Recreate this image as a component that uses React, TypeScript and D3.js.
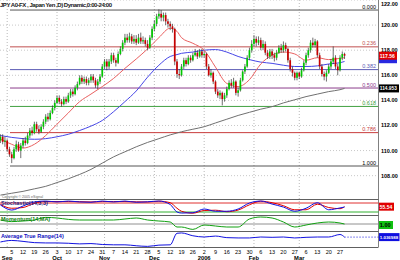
import * as d3 from 'd3';

// daily candles, Aug 29 2005 .. Mar 29 2006 (weekdays)
const opens = [
  110.8, 111.1, 110.7, 110.8, 110.1, 109.7, 109.4, 110.1, 110.5, 110.0,
  110.4, 110.8, 110.6, 111.2, 111.6, 111.4, 112.1, 111.7, 111.5, 111.9,
  112.3, 112.7, 112.5, 113.0, 113.4, 113.8, 114.2, 113.9, 113.7, 114.1,
  113.9, 114.4, 114.7, 114.5, 115.0, 115.3, 115.8, 115.5, 115.7, 115.4,
  115.6, 115.9, 115.6, 115.2, 115.5, 115.9, 116.7, 117.1, 116.7, 117.1,
  117.6, 117.2, 117.0, 117.7, 118.1, 118.6, 119.0, 118.8, 119.1, 118.7,
  118.9, 118.6, 119.0, 118.7, 118.8, 118.5, 118.2, 119.0, 119.7, 120.1,
  120.7, 120.9, 120.6, 120.8, 120.3, 120.1, 119.9, 119.7, 117.1, 116.1,
  116.0, 116.7, 117.2, 116.9, 117.4, 117.2, 117.6, 117.8, 117.5, 117.9,
  117.6, 117.7, 116.7, 116.0, 116.2, 115.5, 114.7, 114.4, 114.6, 114.1,
  114.4, 114.9, 115.4, 115.2, 115.5, 114.6, 114.8, 115.6, 116.3, 116.7,
  117.4, 118.0, 118.5, 118.9, 118.6, 118.8, 118.2, 118.5, 117.8, 117.5,
  117.9, 117.6, 117.4, 117.8, 118.2, 118.0, 118.4, 118.1, 117.2, 116.5,
  116.2, 115.8, 116.2, 115.9, 116.4, 117.0, 117.6, 118.0, 118.6, 118.4,
  118.7, 117.6, 116.7, 116.1, 115.9, 116.2, 116.7, 117.1, 117.4, 116.7,
  116.4, 117.4, 117.7,
];
const highs = [
  111.3, 111.3, 111.1, 110.9, 110.3, 109.9, 110.3, 110.8, 110.7, 110.6,
  111.0, 111.1, 111.4, 111.8, 111.9, 112.3, 112.3, 112.0, 112.1, 112.5,
  112.9, 113.0, 113.2, 113.6, 114.0, 114.4, 114.4, 114.1, 114.3, 114.3,
  114.6, 114.9, 114.9, 115.2, 115.5, 116.0, 116.0, 115.9, 115.9, 115.8,
  116.1, 116.1, 115.8, 115.7, 116.1, 116.9, 117.3, 117.3, 117.3, 117.8,
  117.8, 117.4, 117.9, 118.3, 118.8, 119.3, 119.3, 119.4, 119.3, 119.2,
  119.2, 119.3, 119.4, 119.1, 119.0, 118.8, 119.2, 119.9, 120.4, 120.9,
  121.25, 121.2, 121.0, 121.0, 120.5, 120.3, 120.1, 119.8, 117.3, 116.5,
  116.9, 117.4, 117.4, 117.6, 117.6, 117.8, 118.1, 118.0, 118.1, 118.1,
  117.9, 117.8, 116.9, 116.5, 116.3, 115.6, 114.9, 114.8, 114.7, 114.6,
  115.1, 115.6, 115.7, 115.8, 115.6, 115.0, 115.8, 116.4, 116.9, 117.6,
  118.2, 118.8, 119.2, 119.1, 119.1, 119.0, 118.8, 118.7, 118.0, 118.1,
  118.1, 117.8, 118.0, 118.4, 118.5, 118.7, 118.6, 118.2, 117.4, 116.7,
  116.3, 116.3, 116.3, 116.6, 117.2, 117.8, 118.2, 118.8, 119.0, 118.9,
  118.8, 117.8, 116.9, 116.3, 116.4, 116.9, 117.3, 118.3, 117.6, 116.9,
  117.6, 117.9, 117.8,
];
const lows = [
  110.6, 110.5, 110.3, 109.9, 109.5, 109.0, 109.3, 109.9, 109.9, 109.4,
  110.2, 110.4, 110.5, 111.0, 111.2, 111.3, 111.5, 111.3, 111.4, 111.7,
  112.1, 112.3, 112.4, 112.9, 113.2, 113.7, 113.7, 113.5, 113.6, 113.7,
  113.8, 114.2, 114.3, 114.4, 114.8, 115.2, 115.3, 115.3, 115.2, 115.2,
  115.4, 115.4, 115.0, 114.9, 115.3, 115.8, 116.5, 116.4, 116.5, 116.9,
  117.0, 116.7, 116.9, 117.6, 117.9, 118.4, 118.6, 118.6, 118.5, 118.5,
  118.4, 118.5, 118.5, 118.5, 118.3, 118.0, 118.1, 118.8, 119.5, 119.9,
  120.5, 120.3, 120.3, 120.0, 119.8, 119.6, 119.4, 116.8, 115.8, 115.7,
  115.9, 116.5, 116.7, 116.8, 117.0, 117.1, 117.5, 117.3, 117.4, 117.4,
  117.4, 116.5, 115.9, 115.8, 115.3, 114.5, 114.2, 114.1, 113.6, 113.9,
  114.2, 114.8, 115.0, 115.0, 114.4, 114.3, 114.7, 115.5, 116.1, 116.6,
  117.2, 117.8, 118.3, 118.3, 118.4, 118.0, 118.0, 117.6, 117.3, 117.3,
  117.3, 117.1, 117.2, 117.7, 117.8, 117.8, 117.9, 117.0, 116.3, 115.9,
  115.6, 115.6, 115.7, 115.8, 116.3, 116.8, 117.4, 117.8, 118.2, 118.2,
  117.4, 116.5, 115.9, 115.6, 115.5, 116.1, 116.5, 116.9, 116.5, 116.0,
  116.3, 117.2, 117.3,
];
const closes = [
  111.1, 110.7, 110.8, 110.1, 109.7, 109.4, 110.1, 110.5, 110.0, 110.4,
  110.8, 110.6, 111.2, 111.6, 111.4, 112.1, 111.7, 111.5, 111.9, 112.3,
  112.7, 112.5, 113.0, 113.4, 113.8, 114.2, 113.9, 113.7, 114.1, 113.9,
  114.4, 114.7, 114.5, 115.0, 115.3, 115.8, 115.5, 115.7, 115.4, 115.6,
  115.9, 115.6, 115.2, 115.5, 115.9, 116.7, 117.1, 116.7, 117.1, 117.6,
  117.2, 117.0, 117.7, 118.1, 118.6, 119.0, 118.8, 119.1, 118.7, 118.9,
  118.6, 119.0, 118.7, 118.8, 118.5, 118.2, 119.0, 119.7, 120.1, 120.7,
  120.9, 120.6, 120.8, 120.3, 120.1, 119.9, 119.7, 117.1, 116.1, 116.0,
  116.7, 117.2, 116.9, 117.4, 117.2, 117.6, 117.8, 117.5, 117.9, 117.6,
  117.7, 116.7, 116.0, 116.2, 115.5, 114.7, 114.4, 114.6, 114.1, 114.4,
  114.9, 115.4, 115.2, 115.5, 114.6, 114.8, 115.6, 116.3, 116.7, 117.4,
  118.0, 118.5, 118.9, 118.6, 118.8, 118.2, 118.5, 117.8, 117.5, 117.9,
  117.6, 117.4, 117.8, 118.2, 118.0, 118.4, 118.1, 117.2, 116.5, 116.2,
  115.8, 116.2, 115.9, 116.4, 117.0, 117.6, 118.0, 118.6, 118.4, 118.7,
  117.6, 116.7, 116.1, 115.9, 116.2, 116.7, 117.1, 117.4, 116.7, 116.4,
  117.4, 117.7, 117.56,
];

// indicator samples (trading-day index)
const sampleDays = [0, 5, 10, 15, 20, 25, 30, 35, 40, 45, 50, 55, 60, 65, 70, 75, 78, 80, 85, 90, 95, 100, 105, 110, 115, 120, 125, 130, 135, 140, 145, 150, 152];
const redMa = [110.9, 110.5, 110.2, 110.5, 111.2, 112.1, 113.0, 113.9, 114.5, 115.1, 115.75, 116.55, 117.3, 118.1, 119.0, 119.75, 119.5, 119.0, 118.55, 118.0, 116.65, 115.35, 115.1, 115.65, 116.9, 117.6, 117.85, 117.7, 117.2, 117.4, 117.25, 117.35, 117.4];
const blueMa = [111.2, 111.05, 110.95, 110.9, 110.95, 111.1, 111.3, 111.6, 111.95, 112.4, 113.1, 113.9, 114.75, 115.85, 116.8, 117.5, 117.65, 117.75, 117.85, 118.0, 118.05, 117.85, 117.5, 117.25, 117.05, 116.95, 116.8, 116.7, 116.7, 116.75, 116.9, 117.0, 117.1];
const greyMa = [106.45, 106.6, 106.75, 106.95, 107.15, 107.45, 107.75, 108.1, 108.5, 109.0, 109.5, 109.9, 110.3, 110.65, 110.95, 111.25, 111.4, 111.5, 111.7, 111.9, 112.2, 112.5, 112.8, 113.05, 113.3, 113.5, 113.8, 114.05, 114.3, 114.5, 114.7, 114.85, 114.953];
const stochK = [67, 33, 60, 87, 93, 87, 93, 87, 85, 93, 87, 93, 85, 88, 93, 70, 20, 13, 15, 40, 25, 25, 40, 80, 93, 73, 53, 25, 45, 82, 35, 47, 53];
const stochD = [70, 45, 50, 78, 90, 90, 90, 89, 87, 90, 90, 90, 88, 87, 92, 82, 45, 25, 12, 30, 32, 22, 33, 68, 92, 82, 62, 35, 35, 72, 50, 42, 55.54];
const momentum = [102, 101.2, 101.5, 102, 103.3, 103, 102.3, 102, 102, 102, 102, 102.5, 103, 102, 101.5, 101, 98.5, 98.5, 97.3, 99.5, 99, 98.5, 98.5, 102.5, 103.5, 103, 101, 98.5, 99.5, 100.5, 101, 100.5, 100];
const atr = [0.88, 0.93, 0.9, 0.86, 0.85, 0.85, 0.84, 0.82, 0.83, 0.8, 0.79, 0.79, 0.76, 0.74, 0.78, 0.79, 1.16, 1.17, 1.08, 1.04, 1.07, 1.02, 1.01, 1.01, 1.04, 1.03, 1.04, 1.01, 1.03, 1.04, 1.04, 1.12, 1.036988];

const priceTicks = [122, 120, 118, 116, 114, 112, 110, 108];
const fibLevels = [0, 0.236, 0.382, 0.5, 0.618, 0.786, 1];
const fibLabels = ['0.000', '0.236', '0.382', '0.500', '0.618', '0.786', '1.000'];
const fibColors = ['#555555', '#c05050', '#5a5ab4', '#8c3c8c', '#40a040', '#c83c3c', '#555555'];
const fibHigh = 121.2;
const fibLow = 108.77;
const monthLabels = ['Sep', 'Oct', 'Nov', 'Dec', '2006', 'Feb', 'Mar'];

const tradingDays = d3
  .timeDays(new Date(2005, 7, 29), new Date(2006, 2, 30))
  .filter((d) => d.getDay() !== 0 && d.getDay() !== 6);

const font = 'Liberation Sans, Arial, sans-serif';

export default function App() {
  const x = d3.scaleLinear().domain([0, 167]).range([0.4, 378.5]);
  const y = d3.scaleLinear().domain([122, 106.3]).range([0, 197]);
  const yStoch = d3.scaleLinear().domain([0, 100]).range([215, 200]);
  const yMom = d3.scaleLinear().domain([96, 104]).range([232, 216]);
  const yAtr = d3.scaleLinear().domain([0.72, 1.2]).range([247, 232]);
  const right = 378.5;

  const lineOf = (vals: number[], sy: d3.ScaleLinear<number, number>) =>
    d3
      .line<number>()
      .x((_, i) => x(sampleDays[i]))
      .y((v) => sy(v))
      .curve(d3.curveMonotoneX)(vals) ?? '';

  const mondays = tradingDays
    .map((d, i) => ({ d, i }))
    .filter(({ d, i }) => d.getDay() === 1 && x(i) > 5);
  const monthStarts = tradingDays
    .map((d, i) => ({ d, i }))
    .filter(({ d, i }) => i > 0 && d.getMonth() !== tradingDays[i - 1].getMonth());

  const fibPrice = (f: number) => fibHigh - f * (fibHigh - fibLow);
  const lastIdx = closes.length - 1;

  // value tag on the right edge
  const box = (yy: number, w: number, fill: string, txt: string, color = '#fff', fs = 5.5) => (
    <g key={txt + fill}>
      <rect x={379} y={yy - 4} width={w} height={8} fill={fill} />
      {txt && (
        <text x={379.8} y={yy + 2} fontSize={fs} fontWeight="bold" fill={color}>
          {txt}
        </text>
      )}
    </g>
  );

  return (
    <svg
      width={400}
      height={260}
      style={{ position: 'absolute', left: 0, top: 0, background: '#fff', fontFamily: font }}
    >
      <defs>
        <clipPath id="main">
          <rect x={0} y={0} width={right} height={198} />
        </clipPath>
      </defs>

      {/* grid */}
      {priceTicks.map((p) => (
        <line key={p} x1={0} x2={right} y1={y(p)} y2={y(p)} stroke="#c8c8c8" strokeDasharray="1,2" />
      ))}
      {monthStarts.map(({ i }) => (
        <line key={i} x1={x(i)} x2={x(i)} y1={0} y2={247} stroke="#b8b8b8" strokeDasharray="1,2" />
      ))}

      {/* fibonacci */}
      {fibLevels.map((f, k) => (
        <g key={f}>
          <line x1={10} x2={right} y1={y(fibPrice(f))} y2={y(fibPrice(f))} stroke={fibColors[k]} strokeWidth={1} />
          <text x={376} y={y(fibPrice(f)) - 1.5} fontSize={5.5} textAnchor="end" fill={k === 0 || k === 6 ? '#000' : fibColors[k]}>
            {fibLabels[k]}
          </text>
        </g>
      ))}

      <g clipPath="url(#main)">
        <path d={lineOf(greyMa, y)} fill="none" stroke="#707070" strokeWidth={1} />
        <path d={lineOf(blueMa, y)} fill="none" stroke="#4646e6" strokeWidth={1} />
        <path d={lineOf(redMa, y)} fill="none" stroke="#e86060" strokeWidth={1} />
        {closes.map((c, i) => {
          const o = opens[i];
          const up = c >= o;
          const top = y(Math.max(o, c));
          const h = Math.max(0.8, Math.abs(y(o) - y(c)));
          return (
            <g key={i}>
              <line x1={x(i)} x2={x(i)} y1={y(highs[i])} y2={y(lows[i])} stroke="#303030" strokeWidth={0.7} />
              <rect x={x(i) - 0.85} y={top} width={1.7} height={h} fill={up ? '#00c800' : '#c80000'} />
            </g>
          );
        })}
      </g>

      {/* title & copyright */}
      <text x={0} y={6.5} fontSize={6} fontWeight="bold" fill="#202020" textLength={112}>
        JPY A0-FX , Japan Yen ,D) Dynamic,0:00-24:00
      </text>
      <text x={2} y={197.5} fontSize={3.6} fill="#666">
        Copyright © 2005 eSignal
      </text>

      {/* right axis */}
      <line x1={right} x2={right} y1={0} y2={247} stroke="#808080" />
      {priceTicks.map((p) => (
        <text key={p} x={381} y={Math.max(y(p) + 2, 6)} fontSize={5.5} fontWeight="bold" fill="#000">
          {p.toFixed(2)}
        </text>
      ))}
      {box(y(closes[lastIdx]) + 3.5, 18, '#2828e0', '')}
      {box(y(closes[lastIdx]), 18, '#e00000', closes[lastIdx].toFixed(2), '#fff', 5)}
      {box(y(greyMa[greyMa.length - 1]), 20, '#000', greyMa[greyMa.length - 1].toFixed(3), '#fff', 4.8)}

      {/* panel separators */}
      {[199.5, 215.5, 231.5, 247.5].map((v) => (
        <line key={v} x1={0} x2={right} y1={v} y2={v} stroke="#606060" />
      ))}

      {/* stochastic */}
      <line x1={0} x2={right} y1={yStoch(80)} y2={yStoch(80)} stroke="#e03030" />
      <line x1={0} x2={right} y1={yStoch(20)} y2={yStoch(20)} stroke="#30b030" />
      <path d={lineOf(stochD, yStoch)} fill="none" stroke="#e00000" />
      <path d={lineOf(stochK, yStoch)} fill="none" stroke="#1010e0" />
      <text x={1} y={204.8} fontSize={5.5} fontWeight="bold" fill="#1a1a80">
        Stochastic(14,3,3)
      </text>
      {box(yStoch(stochD[stochD.length - 1]), 15, '#e00000', stochD[stochD.length - 1].toFixed(2), '#fff', 5)}

      {/* momentum */}
      <line x1={0} x2={right} y1={yMom(100)} y2={yMom(100)} stroke="#909090" />
      <path d={lineOf(momentum, yMom)} fill="none" stroke="#10a010" />
      <text x={1} y={221.3} fontSize={5.5} fontWeight="bold" fill="#108010">
        Momentum(14,MA)
      </text>
      {box(yMom(100) + 1, 14, '#10c010', '1.00', '#000', 5.5)}

      {/* ATR */}
      <path d={lineOf(atr, yAtr)} fill="none" stroke="#1010e0" />
      <line
        x1={x(sampleDays[sampleDays.length - 1])}
        x2={right}
        y1={yAtr(atr[atr.length - 1])}
        y2={yAtr(atr[atr.length - 1])}
        stroke="#1010e0"
        strokeDasharray="1,2"
      />
      <text x={1} y={238} fontSize={5.5} fontWeight="bold" fill="#1010c0">
        Average True Range(14)
      </text>
      {box(yAtr(atr[atr.length - 1]), 20.5, '#1010e0', atr[atr.length - 1].toString(), '#fff', 4.4)}

      {/* date axis */}
      {mondays.map(({ d, i }) => (
        <text key={i} x={x(i)} y={254} fontSize={5.5} textAnchor="middle" fill="#000">
          {d.getDate()}
        </text>
      ))}
      {monthStarts.map(({ i }, k) => (
        <text key={i} x={x(i)} y={259.5} fontSize={5.8} fontWeight="bold" textAnchor="middle" fill="#000">
          {monthLabels[k]}
        </text>
      ))}
    </svg>
  );
}
